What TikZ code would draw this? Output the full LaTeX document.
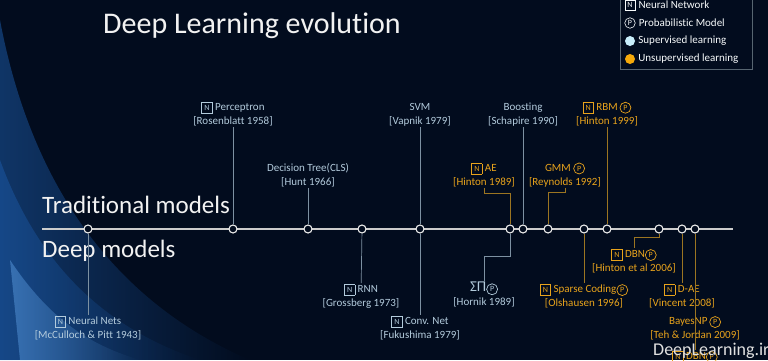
\documentclass[tikz,border=0pt]{standalone}
\usepackage{fontspec}
\setmainfont{Carlito}[Ligatures=NoCommon]
\usetikzlibrary{positioning,fadings}

\definecolor{bgnavy}{HTML}{020C1E}
\definecolor{glowblue}{HTML}{1E5FB0}
\definecolor{glowlight}{HTML}{5A9BE0}
\definecolor{suptext}{HTML}{B3CBDC}
\definecolor{supline}{HTML}{7D91A2}
\definecolor{unstext}{HTML}{E8A31C}
\definecolor{unsline}{HTML}{9C7521}
\definecolor{supdot}{HTML}{C8EEFA}
\definecolor{unsdot}{HTML}{F5A90A}

% icons
\newcommand{\nbx}{{\fboxsep=2.3pt\fboxrule=0.7pt\fbox{\fontsize{8}{8}\selectfont N}}}
\newcommand{\pcr}[1]{\tikz[baseline=(p.base)]\node[circle,draw=#1,text=#1,line width=0.7pt,inner sep=0pt,minimum size=11pt,font=\fontsize{8}{8}\selectfont](p){P};}

\tikzset{
  dot/.style={circle,draw=white!92!black,fill=bgnavy,line width=1.1pt,inner sep=0pt,minimum size=8pt},
  lbl/.style={align=center,inner sep=1pt,font=\fontsize{11}{14}\selectfont},
  suplbl/.style={lbl,text=suptext},
  unslbl/.style={lbl,text=unstext},
  supcon/.style={draw=supline,line width=0.7pt},
  unscon/.style={draw=unsline,line width=0.9pt},
  bigtext/.style={text=white!95!black,font=\fontsize{25}{30}\selectfont,inner sep=0pt},
  legtext/.style={text=white!90!suptext,font=\fontsize{11}{13}\selectfont,inner sep=1pt,anchor=west},
  legdot/.style={circle,inner sep=0pt,minimum size=10pt}
}

\begin{document}
\begin{tikzpicture}[x=1pt,y=-1pt]
  % background
  \fill[bgnavy] (0,0) rectangle (768,360);
  \useasboundingbox (0,0) rectangle (768,360);
  \fill[glowblue,path fading=east,fill opacity=0.5] (0,20) .. controls (30,180) and (110,300) .. (250,360) -- (0,360) -- cycle;
  \fill[glowblue,path fading=east,fill opacity=0.45] (0,160) .. controls (40,270) and (110,330) .. (200,360) -- (0,360) -- cycle;
  \fill[glowlight,path fading=east,fill opacity=0.5] (10,260) .. controls (50,320) and (90,345) .. (140,360) -- (20,360) -- cycle;

  % title and legend
  \node[bigtext,font=\fontsize{30}{36}\selectfont,anchor=base west] (ttl) at (103,33) {Deep Learning evolution};
  \draw[supline!70!black,line width=0.6pt] (620,-1) rectangle (752,69);
  \node[text=white!90!suptext,draw=white!90!suptext,line width=0.6pt,inner sep=0pt,minimum size=10pt,font=\fontsize{8}{8}\selectfont] (lgn) at (630,5) {N};
  \node[text=white!90!suptext,draw=white!90!suptext,circle,line width=0.6pt,inner sep=0pt,minimum size=10.5pt,font=\fontsize{8}{8}\selectfont] (lgp) at (630,23) {P};
  \node[legdot,fill=supdot] (lgs) at (630,41) {};
  \node[legdot,fill=unsdot] (lgu) at (630,59) {};
  \node[legtext,right=2pt of lgn] (lgntx) {Neural Network};
  \node[legtext,right=2pt of lgp] (lgptx) {Probabilistic Model};
  \node[legtext,right=2pt of lgs] (lgstx) {Supervised learning};
  \node[legtext,right=2pt of lgu] (lgutx) {Unsupervised learning};

  % time line
  \node[bigtext,anchor=base west] (trad) at (42,213) {Traditional models};
  \node[bigtext,anchor=base west] (deep) at (42,257) {Deep models};
  \coordinate (tl0) at (42,229);
  \coordinate (tl1) at (733,229);
  \draw[white!80!black,line width=1.5pt] (tl0) -- (tl1);
  \foreach \yr/\xp in {1943/88,1958/233,1966/308,1973/362,1979/420,1989/510,
                       1990/523,1992/548,1996/584,1999/607,2006/659,2008/682,2009/695}
    \node[dot] (t\yr) at (\xp,229) {};

  % traditional models, above
  \node[suplbl,anchor=south] (perceptron) at (233,127) {\nbx\ Perceptron\\{[}Rosenblatt 1958{]}};
  \node[suplbl,anchor=south] (dtree) at (308,188) {Decision Tree(CLS)\\{[}Hunt 1966{]}};
  \node[suplbl,anchor=south] (svm) at (420,127) {SVM\\{[}Vapnik 1979{]}};
  \node[suplbl,anchor=south] (boosting) at (523,127) {Boosting\\{[}Schapire 1990{]}};
  \node[unslbl,anchor=south] (ae) at (484,188) {\nbx\ AE\\{[}Hinton 1989{]}};
  \node[unslbl,anchor=south] (gmm) at (565,188) {GMM \pcr{unstext}\\{[}Reynolds 1992{]}};
  \node[unslbl,anchor=south] (rbm) at (607,127) {\nbx\ RBM\,\pcr{unstext}\\{[}Hinton 1999{]}};

  % deep models, below
  \node[suplbl,anchor=north] (neuralnets) at (88,315) {\nbx\ Neural Nets\\{[}McCulloch \& Pitt 1943{]}};
  \node[suplbl,anchor=north] (rnn) at (361,283) {\nbx\ RNN\\{[}Grossberg 1973{]}};
  \node[suplbl,anchor=north] (convnet) at (420,315) {\nbx\ Conv. Net\\{[}Fukushima 1979{]}};
  \node[suplbl,anchor=north] (hornik) at (484,281) {{\fontsize{15}{15}\selectfont ΣΠ}\pcr{suptext}\\{[}Hornik 1989{]}};
  \node[unslbl,anchor=north] (sparse) at (584,283) {\nbx\ Sparse Coding\pcr{unstext}\\{[}Olshausen 1996{]}};
  \node[unslbl,anchor=north] (dbn) at (634,248) {\nbx\ DBN\pcr{unstext}\\{[}Hinton et al 2006{]}};
  \node[unslbl,anchor=north] (dae) at (682,283) {\nbx\ D-AE\\{[}Vincent 2008{]}};
  \node[unslbl,anchor=north] (bayesnp) at (695,315) {BayesNP\,\pcr{unstext}\\{[}Teh \& Jordan 2009{]}};
  \node[unslbl,anchor=north] (dbnb) at (695,350) {\nbx\ DBN\pcr{unstext}};

  % connectors
  \draw[supcon] (t1958) -- (perceptron);
  \draw[supcon] (t1966) -- (dtree);
  \draw[supcon] (t1979) -- (svm);
  \draw[supcon] (t1990) -- (boosting);
  \draw[unscon] (ae) -- ++(0,18) -| (t1989);
  \draw[unscon] (gmm) -- ++(0,18) -| (t1992);
  \draw[unscon] (t1999) -- (rbm);
  \draw[supcon] (t1943) -- (neuralnets);
  \draw[supcon] (t1973) -- (rnn);
  \draw[supcon] (t1979) -- (convnet);
  \draw[supcon] (t1989) -- ++(0,27) -| (hornik);
  \draw[unscon] (t1996) -- (sparse);
  \draw[unscon] (t2006) -- ++(0,8) -| (dbn);
  \draw[unscon] (t2008) -- (dae);
  \draw[unscon] (t2009) -- (dbnb);

  % watermark
  \node[text=white!88!black,font=\fontsize{18}{20}\selectfont,anchor=base west,inner sep=0pt] (wm) at (653,355) {DeepLearning.ir};
\end{tikzpicture}
\end{document}
